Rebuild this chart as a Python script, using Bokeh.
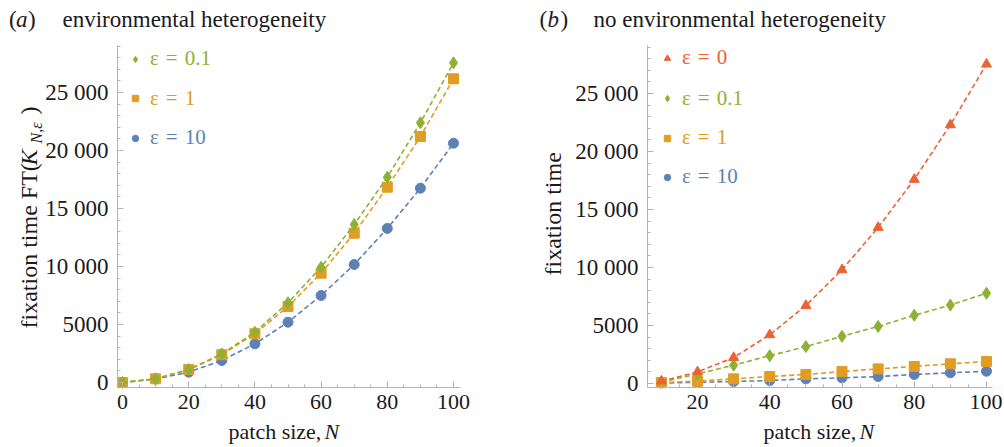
from bokeh.plotting import figure
from bokeh.layouts import row
from bokeh.models import Label, Legend, LegendItem, FixedTicker, Range1d
from bokeh.embed import file_html
from bokeh.resources import INLINE

# ---------------- data ----------------
N_a = [0, 10, 20, 30, 40, 50, 60, 70, 80, 90, 100]
a_eps01 = [0, 320, 1120, 2470, 4340, 6870, 9940, 13620, 17700, 22390, 27560]
a_eps1 = [0, 320, 1120, 2400, 4200, 6550, 9420, 12870, 16840, 21200, 26180]
a_eps10 = [0, 300, 890, 1900, 3330, 5200, 7500, 10170, 13280, 16750, 20630]

N_b = [10, 20, 30, 40, 50, 60, 70, 80, 90, 100]
b_eps0 = [200, 1000, 2240, 4200, 6720, 9800, 13450, 17590, 22300, 27530]
b_eps01 = [130, 820, 1580, 2400, 3180, 4070, 4920, 5880, 6760, 7780]
b_eps1 = [80, 200, 400, 600, 780, 1030, 1260, 1470, 1700, 1900]
b_eps10 = [40, 100, 170, 260, 400, 490, 600, 780, 920, 1060]

x_ticks_a = [0, 20, 40, 60, 80, 100]
x_ticks_b = [20, 40, 60, 80, 100]
y_ticks = [0, 5000, 10000, 15000, 20000, 25000]
y_tick_labels = ["0", "5000", "10 000", "15 000", "20 000", "25 000"]

RED = "#EB6235"
GREEN = "#8FB131"
ORANGE = "#E19C24"
BLUE = "#5E81B5"
AXC = "#b3b3b3"
FONT = "Liberation Serif"
TXT = "#1a1a1a"

H = 445
FRAME_TOP, FRAME_BOTTOM = 45, 387
YPX = 58.0 / 5000.0  # pixels per y unit
KB = 0.34  # baseline correction (fraction of font size)


def make_fig(left_page, width, x0_page, xpx, y0_page, xbounds):
    """Figure whose frame fills the canvas; axes are pinned with fixed_location."""
    xr = ((left_page - x0_page) / xpx, (left_page + width - x0_page) / xpx)
    yr = ((y0_page - H) / YPX, y0_page / YPX)
    ybounds = ((y0_page - FRAME_BOTTOM) / YPX, (y0_page - FRAME_TOP) / YPX)
    p = figure(width=width, height=H, output_backend="svg", toolbar_location=None,
               x_range=Range1d(*xr), y_range=Range1d(*yr),
               min_border=0, min_border_left=0, min_border_right=0,
               min_border_top=0, min_border_bottom=0)
    p.outline_line_color = None
    p.xgrid.visible = False
    p.ygrid.visible = False
    p.background_fill_color = "white"
    p.border_fill_color = "white"
    xa, ya = p.xaxis[0], p.yaxis[0]
    xa.fixed_location = ybounds[0]
    xa.bounds = xbounds
    ya.fixed_location = xbounds[0]
    ya.bounds = ybounds
    for ax in (xa, ya):
        ax.axis_line_color = AXC
        ax.major_tick_line_color = AXC
        ax.minor_tick_line_color = AXC
        ax.major_tick_in = 6
        ax.major_tick_out = 0
        ax.minor_tick_in = 3
        ax.minor_tick_out = 0
        ax.major_label_text_font = FONT
        ax.major_label_text_color = TXT
    xa.major_label_text_font_size = "22px"
    ya.major_label_text_font_size = "23px"
    ya.ticker = FixedTicker(ticks=y_ticks, minor_ticks=list(range(0, 29001, 1000)))
    ya.major_label_overrides = {t: l for t, l in zip(y_ticks, y_tick_labels)}
    ya.major_label_standoff = 9
    xa.major_label_standoff = 7
    return p


def series(p, xs, ys, color, marker, size):
    p.line(xs, ys, line_color=color, line_width=1.6, line_dash="5 3")
    return p.scatter(xs, ys, marker=marker, size=size, fill_color=color, line_color=color)


def lab(p, left, x_page, y_page, text, fs, italic=False, rotated=False, color=TXT):
    """Place text by page position of its start and baseline."""
    if rotated:
        x_page = x_page - KB * fs
    else:
        y_page = y_page - KB * fs
    p.add_layout(Label(x=x_page - left, y=H - y_page, x_units="screen", y_units="screen",
                       text=text, text_font=FONT, text_font_size=f"{fs}px",
                       text_font_style="italic" if italic else "normal",
                       text_color=color, angle=1.5707963 if rotated else 0.0,
                       text_align="left", text_baseline="alphabetic"))


def leg(p, left, x_page, center_page, text, color, r):
    h = 24
    p.add_layout(Legend(items=[LegendItem(label=text, renderers=[r])],
                        location=(x_page - left, H - center_page - h / 2),
                        glyph_width=16, glyph_height=h, label_height=h, label_standoff=7,
                        padding=0, margin=0, spacing=0, border_line_alpha=0,
                        background_fill_alpha=0, label_text_font=FONT,
                        label_text_font_size="21px", label_text_color=color))


SP = "\u2004"

# ---------------- panel (a) ----------------
La = 0
pa = make_fig(La, 520, 122, 3.31, 382, (-1.51, 102.1))
pa.xaxis[0].ticker = FixedTicker(ticks=x_ticks_a, minor_ticks=list(range(0, 101, 5)))
ra10 = series(pa, N_a, a_eps10, BLUE, "circle", 10)
ra1 = series(pa, N_a, a_eps1, ORANGE, "square", 10)
ra01 = series(pa, N_a, a_eps01, GREEN, "diamond", 12)
leg(pa, La, 127, 59, "ε" + SP + "=" + SP + "0.1", GREEN, ra01)
leg(pa, La, 127, 98.5, "ε" + SP + "=" + SP + "1", ORANGE, ra1)
leg(pa, La, 127, 138, "ε" + SP + "=" + SP + "10", BLUE, ra10)

lab(pa, La, 8.5, 27, "(", 23)
lab(pa, La, 15.5, 27, "a", 23, italic=True)
lab(pa, La, 27.5, 27, ")", 23)
lab(pa, La, 62, 27, "environmental heterogeneity", 23)

lab(pa, La, 228, 438, "patch size, ", 22)
lab(pa, La, 324, 438, "N", 22, italic=True)

lab(pa, La, 37, 328, "fixation time FT(", 24, rotated=True)
lab(pa, La, 37, 165, "K", 24, italic=True, rotated=True)
lab(pa, La, 41, 143, "N,ε", 16, italic=True, rotated=True)
lab(pa, La, 37, 114, ")", 24, rotated=True)

# ---------------- panel (b) ----------------
Lb = 520
pb = make_fig(Lb, 482, 624.75, 3.6125, 383, (6.16, 101.66))
pb.xaxis[0].ticker = FixedTicker(ticks=x_ticks_b, minor_ticks=list(range(10, 101, 5)))
rb10 = series(pb, N_b, b_eps10, BLUE, "circle", 10)
rb1 = series(pb, N_b, b_eps1, ORANGE, "square", 10)
rb01 = series(pb, N_b, b_eps01, GREEN, "diamond", 12)
rb0 = series(pb, N_b, b_eps0, RED, "triangle", 10)
leg(pb, Lb, 659, 58, "ε" + SP + "=" + SP + "0", RED, rb0)
leg(pb, Lb, 659, 98.5, "ε" + SP + "=" + SP + "0.1", GREEN, rb01)
leg(pb, Lb, 659, 138, "ε" + SP + "=" + SP + "1", ORANGE, rb1)
leg(pb, Lb, 659, 177, "ε" + SP + "=" + SP + "10", BLUE, rb10)

lab(pb, Lb, 539, 27, "(", 23)
lab(pb, Lb, 547, 27, "b", 23, italic=True)
lab(pb, Lb, 560, 27, ")", 23)
lab(pb, Lb, 593, 27, "no environmental heterogeneity", 23)

lab(pb, Lb, 763, 438, "patch size, ", 22)
lab(pb, Lb, 859, 438, "N", 22, italic=True)
lab(pb, Lb, 561, 275, "fixation time", 24, rotated=True)

layout = row(pa, pb)
open("out.html", "w").write(file_html(layout, INLINE))
